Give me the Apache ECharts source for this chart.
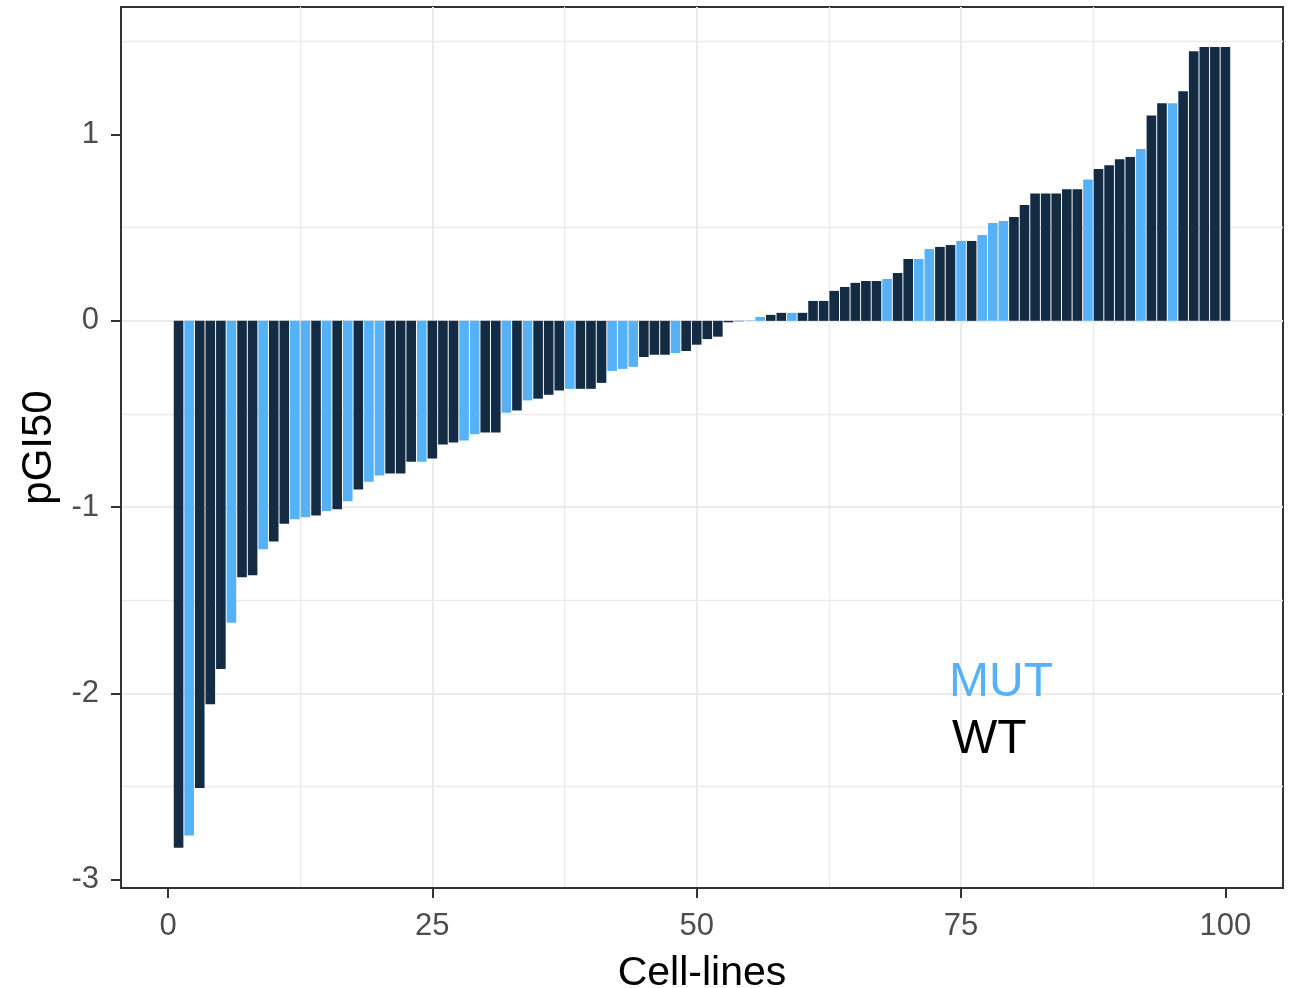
<!DOCTYPE html>
<html>
<head>
<meta charset="utf-8">
<script src="https://cdn.jsdelivr.net/npm/echarts@6/dist/echarts.min.js"></script>
<style>
html,body{margin:0;padding:0;background:#fff;}
#chart{width:1291px;height:988px;}
</style>
</head>
<body>
<div id="chart"></div>
<script>
// ---- data ----
const cellLines = [
  1,2,3,4,5,6,7,8,9,10,11,12,13,14,15,16,17,18,19,20,
  21,22,23,24,25,26,27,28,29,30,31,32,33,34,35,36,37,38,39,40,
  41,42,43,44,45,46,47,48,49,50,51,52,53,54,55,56,57,58,59,60,
  61,62,63,64,65,66,67,68,69,70,71,72,73,74,75,76,77,78,79,80,
  81,82,83,84,85,86,87,88,89,90,91,92,93,94,95,96,97,98,99,100
];
const pgi50 = [
  -2.829,-2.763,-2.508,-2.059,-1.869,-1.621,-1.376,-1.366,-1.226,-1.185,
  -1.089,-1.065,-1.055,-1.045,-1.021,-1.011,-0.968,-0.906,-0.864,-0.830,
  -0.820,-0.820,-0.757,-0.757,-0.739,-0.664,-0.653,-0.643,-0.609,-0.600,
  -0.600,-0.493,-0.481,-0.427,-0.418,-0.397,-0.374,-0.365,-0.365,-0.365,
  -0.333,-0.269,-0.258,-0.247,-0.194,-0.182,-0.182,-0.173,-0.162,-0.128,
  -0.098,-0.085,-0.008,-0.002,0.002,0.021,0.032,0.043,0.043,0.043,
  0.107,0.107,0.161,0.182,0.204,0.214,0.214,0.225,0.257,0.332,
  0.332,0.386,0.397,0.407,0.429,0.429,0.461,0.525,0.536,0.557,
  0.622,0.684,0.684,0.684,0.706,0.706,0.759,0.815,0.836,0.868,
  0.879,0.922,1.102,1.168,1.168,1.233,1.447,1.470,1.470,1.470
];
const status = [
  'WT','MUT','WT','WT','WT','MUT','WT','WT','MUT','WT',
  'WT','MUT','MUT','WT','MUT','WT','MUT','WT','MUT','MUT',
  'WT','WT','WT','MUT','WT','WT','WT','MUT','MUT','WT',
  'WT','MUT','WT','MUT','WT','WT','WT','MUT','WT','WT',
  'WT','MUT','MUT','MUT','WT','WT','WT','MUT','WT','WT',
  'WT','WT','WT','WT','MUT','MUT','WT','WT','MUT','WT',
  'WT','WT','WT','WT','WT','WT','WT','MUT','WT','WT',
  'MUT','MUT','WT','WT','MUT','WT','MUT','MUT','MUT','WT',
  'WT','WT','WT','WT','WT','WT','MUT','WT','WT','WT',
  'WT','MUT','WT','WT','MUT','WT','WT','WT','WT','WT'
];
const xTicks = [0, 25, 50, 75, 100];
const yTicks = [-3, -2, -1, 0, 1];
const legendLabels = ['MUT', 'WT'];

// ---- styles ----
const FONT = '"Liberation Sans", Arial, Helvetica, sans-serif';
const fillColors = { MUT: '#56B1F7', WT: '#132B43' };
const legendColors = { MUT: '#56B1F7', WT: '#000000' };

const barData = cellLines.map((x, i) => ({
  value: [x, pgi50[i]],
  itemStyle: { color: fillColors[status[i]] }
}));

const chart = echarts.init(document.getElementById('chart'), null, { renderer: 'canvas' });

const option = {
  animation: false,
  backgroundColor: '#ffffff',
  grid: {
    left: 121, right: 8, top: 7, bottom: 100,
    show: true, borderColor: '#333333', borderWidth: 2,
    backgroundColor: 'rgba(0,0,0,0)',
    containLabel: false, outerBoundsMode: 'none'
  },
  xAxis: {
    type: 'value',
    min: -4.445, max: 105.445,
    minInterval: 25, maxInterval: 25,
    name: 'Cell-lines', nameLocation: 'middle', nameGap: 65,
    nameTextStyle: { fontFamily: FONT, fontSize: 41, color: '#000000' },
    axisLine: { show: true, onZero: false, lineStyle: { color: '#333333', width: 2 } },
    axisTick: { show: true, length: 10, customValues: xTicks, lineStyle: { color: '#333333', width: 2 } },
    axisLabel: { customValues: xTicks, fontFamily: FONT, fontSize: 31, color: '#4D4D4D', margin: 23 },
    splitLine: { show: true, showMinLine: false, showMaxLine: false, lineStyle: { color: '#EBEBEB', width: 2 } },
    minorTick: { show: false, splitNumber: 2 },
    minorSplitLine: { show: true, lineStyle: { color: '#EBEBEB', width: 1.3 } }
  },
  yAxis: {
    type: 'value',
    min: -3.045, max: 1.685,
    minInterval: 1, maxInterval: 1,
    name: 'pGI50', nameLocation: 'middle', nameGap: 60, nameRotate: 90,
    nameTextStyle: { fontFamily: FONT, fontSize: 42, color: '#000000' },
    axisLine: { show: true, onZero: false, lineStyle: { color: '#333333', width: 2 } },
    axisTick: { show: true, length: 10, customValues: yTicks, lineStyle: { color: '#333333', width: 2 } },
    axisLabel: { customValues: yTicks, fontFamily: FONT, fontSize: 31, color: '#4D4D4D', margin: 22 },
    splitLine: { show: true, showMinLine: false, showMaxLine: false, lineStyle: { color: '#EBEBEB', width: 2 } },
    minorTick: { show: false, splitNumber: 2 },
    minorSplitLine: { show: true, lineStyle: { color: '#EBEBEB', width: 1.3 } }
  },
  graphic: [
    { type: 'text', left: 949, top: 659, z: 100,
      style: { text: legendLabels[0], fill: legendColors.MUT, font: '48px ' + FONT } },
    { type: 'text', left: 952, top: 716, z: 100,
      style: { text: legendLabels[1], fill: legendColors.WT, font: '48px ' + FONT } }
  ],
  series: [{
    type: 'bar',
    name: 'pGI50',
    data: barData,
    barWidth: 9.6,
    itemStyle: { borderWidth: 0 }
  }]
};
chart.setOption(option);
</script>
</body>
</html>
